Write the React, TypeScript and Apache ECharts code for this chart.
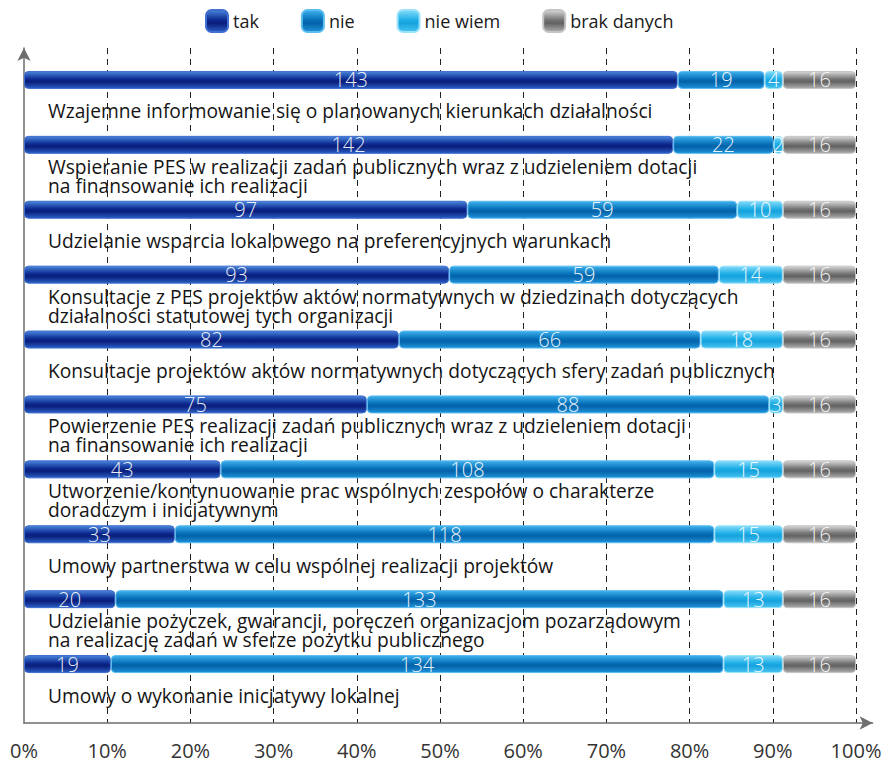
import React, { useEffect, useRef } from "react";
import * as echarts from "echarts";

const categories = [
  "Wzajemne informowanie się o planowanych kierunkach działalności",
  "Wspieranie PES w realizacji zadań publicznych wraz z udzieleniem dotacji\nna finansowanie ich realizacji",
  "Udzielanie wsparcia lokalowego na preferencyjnych warunkach",
  "Konsultacje z PES projektów aktów normatywnych w dziedzinach dotyczących\ndziałalności statutowej tych organizacji",
  "Konsultacje projektów aktów normatywnych dotyczących sfery zadań publicznych",
  "Powierzenie PES realizacji zadań publicznych wraz z udzieleniem dotacji\nna finansowanie ich realizacji",
  "Utworzenie/kontynuowanie prac wspólnych zespołów o charakterze\ndoradczym i inicjatywnym",
  "Umowy partnerstwa w celu wspólnej realizacji projektów",
  "Udzielanie pożyczek, gwarancji, poręczeń organizacjom pozarządowym\nna realizację zadań w sferze pożytku publicznego",
  "Umowy o wykonanie inicjatywy lokalnej",
];

const tak = [143, 142, 97, 93, 82, 75, 43, 33, 20, 19];
const nie = [19, 22, 59, 59, 66, 88, 108, 118, 133, 134];
const nieWiem = [4, 2, 10, 14, 18, 3, 15, 15, 13, 13];
const brakDanych = [16, 16, 16, 16, 16, 16, 16, 16, 16, 16];

const seriesNames = ["tak", "nie", "nie wiem", "brak danych"];
const percentTicks = [0, 10, 20, 30, 40, 50, 60, 70, 80, 90, 100];

const FONT = "'Open Sans', 'Noto Sans', sans-serif";

function grad(top: string, mid: string, mid2: string, bottom: string) {
  return new echarts.graphic.LinearGradient(0, 0, 0, 1, [
    { offset: 0, color: top },
    { offset: 0.45, color: mid },
    { offset: 0.6, color: mid2 },
    { offset: 1, color: bottom },
  ]);
}

export default function App() {
  const ref = useRef<HTMLDivElement>(null);

  useEffect(() => {
    if (!ref.current) return;
    const chart = echarts.init(ref.current, null, { renderer: "svg" });
    const total = tak.map((v, i) => v + nie[i] + nieWiem[i] + brakDanych[i]);
    const maxTotal = Math.max(...total);

    const styles = [
      { color: grad("#4a86dc", "#0c2a90", "#0a1d7a", "#2a5fc4"), border: "#3f6fd0" },
      { color: grad("#40b2ee", "#0670b8", "#0462a8", "#1e92da"), border: "#5cbcf0" },
      { color: grad("#86dcfa", "#1eaee6", "#16a2dc", "#48c4f2"), border: "#9ae2fa" },
      { color: grad("#d8d8d8", "#747474", "#626262", "#aeaeae"), border: "#c4c4c4" },
    ];
    const dataSets = [tak, nie, nieWiem, brakDanych];

    const series: any[] = dataSets.map((d, k) => ({
      name: seriesNames[k],
      type: "bar",
      stack: "all",
      xAxisIndex: 0,
      yAxisIndex: 0,
      barWidth: 18,
      data: d,
      itemStyle: {
        color: styles[k].color,
        borderColor: styles[k].border,
        borderWidth: 1,
        borderRadius: 4,
      },
      label: {
        show: true,
        position: "inside",
        color: "rgba(255,255,255,0.92)",
        fontFamily: FONT,
        fontSize: 20,
        fontWeight: 300,
      },
      emphasis: { disabled: true },
    }));

    const BAR_TOP = 47.5;
    const BAND_H = 649;
    const LABEL_SHIFT = 31;

    chart.setOption({
      animation: false,
      backgroundColor: "#ffffff",
      legend: {
        top: 4,
        left: 200,
        itemWidth: 22,
        itemHeight: 22,
        itemGap: 42,
        icon: "roundRect",
        data: seriesNames,
        textStyle: { fontFamily: FONT, fontSize: 18, color: "#1a1a1a" },
      },
      grid: [
        { left: 24, right: 30, top: BAR_TOP, height: BAND_H, containLabel: false },
        { left: 24, width: 832 * 1.02, top: 48, bottom: 39, containLabel: false },
        { left: 24, right: 30, top: BAR_TOP + LABEL_SHIFT, height: BAND_H, containLabel: false },
      ],
      xAxis: [
        {
          gridIndex: 0,
          type: "value",
          min: 0,
          max: maxTotal,
          show: false,
        },
        {
          gridIndex: 1,
          type: "value",
          min: 0,
          max: 102,
          interval: 10,
          axisLine: {
            show: true,
            lineStyle: { color: "#6e6e6e", width: 1.5 },
            symbol: ["none", "arrow"],
            symbolSize: [10, 13],
          },
          axisTick: { show: false },
          splitLine: {
            show: true,
            showMinLine: false,
            showMaxLine: false,
            lineStyle: { color: "#222", type: [6, 5], width: 1 },
          },
          axisLabel: {
            margin: 17,
            fontFamily: FONT,
            fontSize: 20,
            color: "#333",
            formatter: (v: number) => (percentTicks.indexOf(v) >= 0 ? v + "%" : ""),
          },
        },
        {
          gridIndex: 2,
          type: "value",
          min: 0,
          max: 1,
          show: false,
        },
      ],
      yAxis: [
        {
          gridIndex: 0,
          type: "category",
          inverse: true,
          data: categories,
          show: false,
        },
        {
          gridIndex: 1,
          type: "value",
          min: 0,
          max: 1,
          axisLine: {
            show: true,
            lineStyle: { color: "#6e6e6e", width: 1.5 },
            symbol: ["none", "arrow"],
            symbolSize: [10, 13],
          },
          axisTick: { show: false },
          axisLabel: { show: false },
          splitLine: { show: false },
        },
        {
          gridIndex: 2,
          type: "category",
          inverse: true,
          data: categories,
          axisLine: { show: false },
          axisTick: { show: false },
          splitLine: { show: false },
          axisLabel: {
            inside: true,
            interval: 0,
            margin: 24,
            align: "left",
            verticalAlign: "middle",
            lineHeight: 19,
            fontFamily: FONT,
            fontSize: 19.2,
            color: "#141414",
          },
        },
      ],
      series,
    });

    return () => chart.dispose();
  }, []);

  return (
    <div
      ref={ref}
      style={{ position: "fixed", left: 0, top: 0, width: 886, height: 762 }}
    />
  );
}
